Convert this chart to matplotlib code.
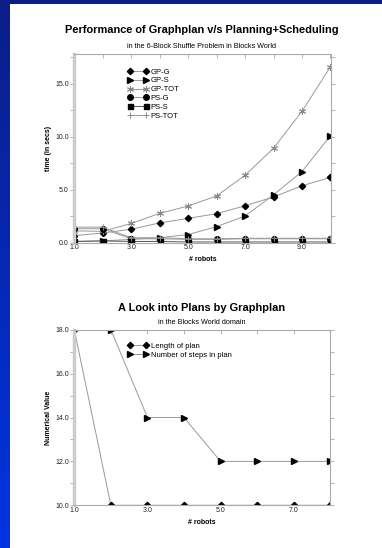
import numpy as np
import matplotlib
matplotlib.use("Agg")
from matplotlib import pyplot as plt
from matplotlib.ticker import MultipleLocator, FixedLocator

plt.rcParams['font.family'] = ['Liberation Sans', 'DejaVu Sans']

# top chart data
robots = [1, 2, 3, 4, 5, 6, 7, 8, 9, 10]
gp_g = [0.65, 0.9, 1.25, 1.85, 2.28, 2.72, 3.47, 4.3, 5.36, 6.15]
gp_s = [0.1, 0.15, 0.3, 0.45, 0.75, 1.5, 2.5, 4.5, 6.7, 10.1]
gp_tot = [1.1, 1.05, 1.8, 2.75, 3.45, 4.4, 6.35, 8.9, 12.4, 16.6]
ps_g = [1.3, 1.3, 0.35, 0.35, 0.3, 0.3, 0.35, 0.35, 0.35, 0.35]
ps_s = [0.1, 0.15, 0.1, 0.1, 0.05, 0.05, 0.05, 0.05, 0.05, 0.05]
ps_tot = [1.45, 1.45, 0.45, 0.45, 0.35, 0.35, 0.4, 0.4, 0.4, 0.4]

# bottom chart data
robots2 = [1, 2, 3, 4, 5, 6, 7, 8]
plan_len = [18, 10, 10, 10, 10, 10, 10, 10]
plan_steps = [18, 18, 14, 14, 12, 12, 12, 12]

W, H = 382, 548
fig = plt.figure(figsize=(W / 100, H / 100), dpi=100)
fig.patch.set_facecolor('white')

# blue frame (left strip gradient + top strip)
grad = np.linspace(0, 1, 256).reshape(-1, 1)
top_c = np.array([10, 30, 135]) / 255
bot_c = np.array([0, 52, 228]) / 255
img = top_c + grad[..., None] * (bot_c - top_c)
bax = fig.add_axes([0, 0, 10 / W, 1])
bax.imshow(img, aspect='auto', extent=[0, 1, 0, 1])
bax.axis('off')
tax = fig.add_axes([0, 1 - 4 / H, 1, 4 / H])
tax.set_facecolor((10 / 255, 30 / 255, 135 / 255))
tax.set_xticks([]); tax.set_yticks([])
for s in tax.spines.values():
    s.set_visible(False)

LINE = '#999999'
SPINE = '#aaaaaa'


def style_axes(ax):
    for side in ['top', 'right', 'bottom']:
        ax.spines[side].set_color(SPINE)
        ax.spines[side].set_linewidth(0.8)
    ax.spines['left'].set_color('#cccccc')
    ax.spines['left'].set_linewidth(2.5)
    ax.tick_params(axis='both', which='both', labelsize=5, colors=SPINE,
                   labelcolor='#222222', length=3, width=0.6)
    ax.tick_params(axis='x', which='both', direction='in', top=True, bottom=False, pad=1)
    ax.tick_params(axis='y', which='both', direction='out', right=True, pad=1)
    ax.tick_params(axis='y', which='both', labelright=False)


def text_kw(size, bold=False):
    return dict(fontsize=size, fontweight='bold' if bold else 'normal', color='black')


leg_kw = dict(loc='upper left', frameon=False, fontsize=5.5, numpoints=2,
              handlelength=2.6, handletextpad=0.35, labelspacing=0.2, borderpad=0)

# ---- top chart ----
ax1 = fig.add_axes([74.3 / W, 1 - 242.5 / H, 256.2 / W, (242.5 - 54) / H])
ax1.plot(robots, gp_g, '-', color=LINE, lw=0.7, marker='D', ms=3.2, mfc='black', mec='black', label='GP-G')
ax1.plot(robots, gp_s, '-', color=LINE, lw=0.7, marker='>', ms=3.8, mfc='black', mec='black', label='GP-S')
ax1.plot(robots, gp_tot, '-', color=LINE, lw=0.7, marker=(6, 2, 0), ms=5, mec='#888888', mew=0.7, label='GP-TOT')
ax1.plot(robots, ps_g, '-', color=LINE, lw=0.7, marker='o', ms=4, mfc='black', mec='black', label='PS-G')
ax1.plot(robots, ps_s, '-', color='#555555', lw=0.7, marker='s', ms=3.6, mfc='black', mec='black', label='PS-S')
ax1.plot(robots, ps_tot, '-', color=LINE, lw=0.7, marker='+', ms=5, mec='#888888', mew=0.7, label='PS-TOT')
ax1.set_xlim(1, 10)
ax1.set_ylim(0, 17.8)
ax1.xaxis.set_major_locator(FixedLocator([1, 3, 5, 7, 9]))
ax1.xaxis.set_minor_locator(MultipleLocator(1))
ax1.yaxis.set_major_locator(MultipleLocator(5))
ax1.yaxis.set_minor_locator(MultipleLocator(2.5))
ax1.set_xticklabels(['1.0', '3.0', '5.0', '7.0', '9.0'])
ax1.set_yticklabels(['%.1f' % v for v in ax1.get_yticks()])
style_axes(ax1)
ax1.set_xlabel('# robots', labelpad=4, **text_kw(5, True))
ax1.set_ylabel('time (in secs)', labelpad=2, **text_kw(5, True))
ax1.legend(bbox_to_anchor=(0.195, 0.945), **leg_kw)
fig.text(202 / W, 1 - 30 / H, 'Performance of Graphplan v/s Planning+Scheduling',
         ha='center', va='center', **text_kw(7.9, True))
fig.text(202 / W, 1 - 46 / H, 'in the 6-Block Shuffle Problem in Blocks World',
         ha='center', va='center', **text_kw(5.2))

# ---- bottom chart ----
ax2 = fig.add_axes([74.3 / W, 1 - 505.3 / H, 256 / W, (505.3 - 329.7) / H])
ax2.plot(robots2, plan_len, '-', color=LINE, lw=0.7, marker='D', ms=3.2, mfc='black', mec='black', label='Length of plan')
ax2.plot(robots2, plan_steps, '-', color=LINE, lw=0.7, marker='>', ms=3.8, mfc='black', mec='black', label='Number of steps in plan')
ax2.set_xlim(1, 8)
ax2.set_ylim(10, 18)
ax2.xaxis.set_major_locator(FixedLocator([1, 3, 5, 7]))
ax2.xaxis.set_minor_locator(MultipleLocator(1))
ax2.yaxis.set_major_locator(MultipleLocator(2))
ax2.yaxis.set_minor_locator(MultipleLocator(1))
ax2.set_xticklabels(['1.0', '3.0', '5.0', '7.0'])
ax2.set_yticklabels(['%.1f' % v for v in ax2.get_yticks()])
style_axes(ax2)
ax2.set_xlabel('# robots', labelpad=4, **text_kw(5, True))
ax2.set_ylabel('Numerical Value', labelpad=2, **text_kw(5, True))
ax2.legend(bbox_to_anchor=(0.195, 0.95), **leg_kw)
fig.text(202 / W, 1 - 308 / H, 'A Look into Plans by Graphplan',
         ha='center', va='center', **text_kw(7.9, True))
fig.text(202 / W, 1 - 322.7 / H, 'in the Blocks World domain',
         ha='center', va='center', **text_kw(5.2))

fig.savefig('out.png', dpi=100, facecolor='white')
